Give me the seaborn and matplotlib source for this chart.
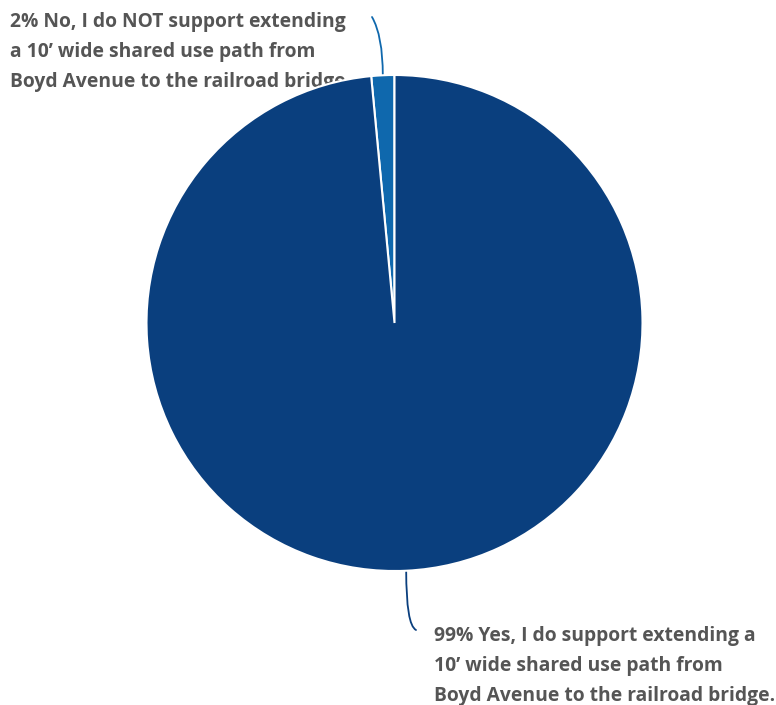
import matplotlib
matplotlib.use("Agg")
import matplotlib.pyplot as plt
import seaborn as sns
import numpy as np

# Data
categories = ["No, I do NOT support extending a 10\u2019 wide shared use path from Boyd Avenue to the railroad bridge.",
              "Yes, I do support extending a 10\u2019 wide shared use path from Boyd Avenue to the railroad bridge."]
label_lines = [
    ["2% No, I do NOT support extending", "a 10\u2019 wide shared use path from", "Boyd Avenue to the railroad bridge."],
    ["99% Yes, I do support extending a", "10\u2019 wide shared use path from", "Boyd Avenue to the railroad bridge."],
]
values = [1.5, 98.5]
colors = ["#0f68ad", "#0a3f7e"]

sns.set_theme(style="white")
plt.rcParams['font.family'] = ['Open Sans', 'DejaVu Sans']

W, H = 776, 705
fig = plt.figure(figsize=(W / 100, H / 100), dpi=100)
ax = fig.add_axes([0, 0, 1, 1])

cx, cy, r = 394.5, H - 323, 248
wedges, _ = ax.pie(values, colors=colors, startangle=90, counterclock=True,
                   center=(cx, cy), radius=r, frame=True,
                   wedgeprops=dict(edgecolor="white", linewidth=1.5, zorder=2))
ax.set_xlim(0, W)
ax.set_ylim(0, H)
ax.set_aspect("equal")
ax.axis("off")

text_color = "#555555"
fs = 13.9
line_gap = 30
# label anchors (pixel coordinates: left x, first baseline y)
label_pos = [(10, 27), (434, 641)]
leader_end = [(372, 17), (416, 630)]
leader_style = ["angle3,angleA=120,angleB=90", "angle3,angleA=-27,angleB=90"]

for i, w in enumerate(wedges):
    ang = np.deg2rad((w.theta1 + w.theta2) / 2)
    ex, ey = cx + r * np.cos(ang), cy + r * np.sin(ang)
    x0, y0 = label_pos[i]
    for j, line in enumerate(label_lines[i]):
        ax.text(x0, H - (y0 + j * line_gap), line, fontsize=fs, fontweight="bold",
                color=text_color, ha="left", va="baseline", zorder=1)
    tx, ty = leader_end[i]
    ax.annotate("", xy=(ex, ey), xytext=(tx, H - ty),
                arrowprops=dict(arrowstyle="-", color=colors[i], lw=1.3,
                                connectionstyle=leader_style[i], shrinkA=0, shrinkB=0),
                zorder=1)

fig.savefig("out.png", dpi=100, facecolor="white")
